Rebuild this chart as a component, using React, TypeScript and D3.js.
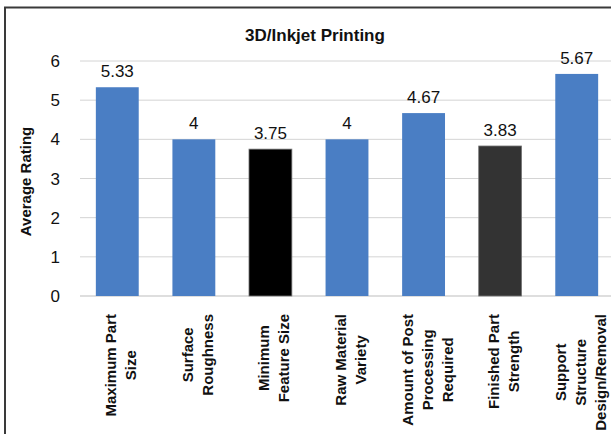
import React from "react";
import * as d3 from "d3";

const title = "3D/Inkjet Printing";
const yAxisTitle = "Average Rating";
const categories = [
  ["Maximum Part", "Size"],
  ["Surface", "Roughness"],
  ["Minimum", "Feature Size"],
  ["Raw Material", "Variety"],
  ["Amount of Post", "Processing", "Required"],
  ["Finished Part", "Strength"],
  ["Support", "Structure", "Design/Removal"],
];
const values = [5.33, 4, 3.75, 4, 4.67, 3.83, 5.67];
const valueLabels = ["5.33", "4", "3.75", "4", "4.67", "3.83", "5.67"];
const barColors = ["#4a7ec4", "#4a7ec4", "#000000", "#4a7ec4", "#4a7ec4", "#333333", "#4a7ec4"];
const yTicks = [0, 1, 2, 3, 4, 5, 6];

const FONT = "'Liberation Sans', Arial, sans-serif";
const W = 611;
const H = 434;

function measure(text: string, font: string): number {
  if (typeof document === "undefined") return text.length * 8;
  const c = document.createElement("canvas");
  const ctx = c.getContext("2d");
  if (!ctx) return text.length * 8;
  ctx.font = font;
  return ctx.measureText(text).width;
}

export default function App() {
  const keys = categories.map((c) => c.join(" "));
  const x = d3.scaleBand<string>().domain(keys).range([79, 615]).paddingInner(0.44).paddingOuter(0.22);
  const y = d3.scaleLinear().domain([0, 6]).range([296, 61]);
  const catFont = `bold 15px ${FONT}`;

  return (
    <svg width={W} height={H} style={{ position: "absolute", left: 0, top: 0, background: "#fff" }}>
      <rect x={0} y={0} width={W} height={H} fill="#fff" />
      <rect x={5} y={7.5} width={W + 20} height={H + 20} fill="none" stroke="#3a3a3a" strokeWidth={2} />
      <text x={315} y={41} textAnchor="middle" fontFamily={FONT} fontWeight="bold" fontSize={17} fill="#111">
        {title}
      </text>
      {yTicks.map((t) => (
        <g key={t}>
          <line x1={80} x2={W} y1={y(t)} y2={y(t)} stroke={t === 0 ? "#bdbdbd" : "#d4d4d4"} strokeWidth={1} />
          <text x={60} y={y(t) + 6} textAnchor="end" fontFamily={FONT} fontSize={17} fill="#111">
            {t}
          </text>
        </g>
      ))}
      <text
        transform={`translate(31, ${(y(0) + y(6)) / 2 + 3}) rotate(-90)`}
        textAnchor="middle"
        fontFamily={FONT}
        fontWeight="bold"
        fontSize={15}
        fill="#111"
      >
        {yAxisTitle}
      </text>
      {keys.map((k, i) => {
        const bx = x(k) as number;
        const bw = x.bandwidth();
        const cx = bx + bw / 2;
        return (
          <g key={k}>
            <rect
              x={bx}
              y={y(values[i])}
              width={bw}
              height={y(0) - y(values[i])}
              fill={barColors[i]}
              stroke={barColors[i] === "#4a7ec4" ? "none" : "#777"}
              strokeWidth={barColors[i] === "#4a7ec4" ? 0 : 0.8}
            />
            <text x={cx} y={y(values[i]) - 10} textAnchor="middle" fontFamily={FONT} fontSize={17} fill="#111">
              {valueLabels[i]}
            </text>
          </g>
        );
      })}
      {categories.map((lines, i) => {
        const k = keys[i];
        const cx = (x(k) as number) + x.bandwidth() / 2;
        const maxW = Math.max(...lines.map((l) => measure(l, catFont)));
        const midY = 314 + maxW / 2;
        const n = lines.length;
        return (
          <g key={k}>
            {lines.map((l, j) => {
              const vx = cx + 4 + (j - (n - 1) / 2) * 20;
              const bx = vx + 5;
              return (
                <text
                  key={j}
                  transform={`translate(${bx}, ${midY}) rotate(-90)`}
                  textAnchor="middle"
                  fontFamily={FONT}
                  fontWeight="bold"
                  fontSize={15}
                  fill="#111"
                >
                  {l}
                </text>
              );
            })}
          </g>
        );
      })}
    </svg>
  );
}
